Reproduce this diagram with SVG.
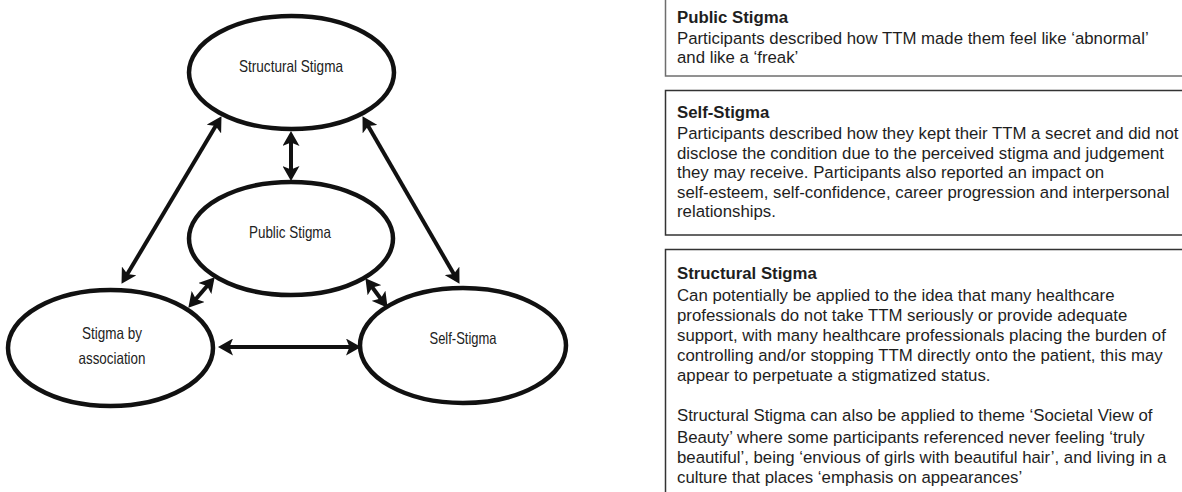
<svg xmlns="http://www.w3.org/2000/svg" width="1182" height="492" viewBox="0 0 1182 492">
  <style>
    .node ellipse { fill: #ffffff; stroke: #111111; stroke-width: 4.5; }
    .node text { font-family: "Liberation Sans", Arial, sans-serif; font-size: 16.5px; fill: #222222; text-anchor: middle; }
    .link { stroke: #111111; stroke-width: 4; fill: none; marker-start: url(#head); marker-end: url(#head); }
    .box { fill: #ffffff; stroke: #333333; stroke-width: 1.5; }
    .box.light { stroke: #6e6e6e; }
    .txt { font-family: "Liberation Sans", Arial, sans-serif; font-size: 16.8px; fill: #1e1e1e; }
    .txt .h { font-weight: bold; }
  </style>
  <defs>
    <marker id="head" markerUnits="userSpaceOnUse" markerWidth="16" markerHeight="17" refX="8" refY="8.5" orient="auto-start-reverse" viewBox="0 0 16 17">
      <path d="M0,0 L15,8.5 L0,17 L3.5,8.5 Z" fill="#111111"/>
    </marker>
  </defs>

  <rect width="1182" height="492" fill="#ffffff"/>

  <!-- stigma model -->
  <g id="structural-stigma" class="node">
    <ellipse cx="291.5" cy="72.5" rx="102.5" ry="56.5"/>
    <text x="291" y="72" textLength="104" lengthAdjust="spacingAndGlyphs">Structural Stigma</text>
  </g>
  <g id="public-stigma" class="node">
    <ellipse cx="291" cy="238.5" rx="102" ry="56.5"/>
    <text x="290" y="238" textLength="82" lengthAdjust="spacingAndGlyphs">Public Stigma</text>
  </g>
  <g id="stigma-by-association" class="node">
    <ellipse cx="110.5" cy="348" rx="102.5" ry="58"/>
    <text x="112" y="339" textLength="60" lengthAdjust="spacingAndGlyphs">Stigma by</text>
    <text x="112" y="364" textLength="67" lengthAdjust="spacingAndGlyphs">association</text>
  </g>
  <g id="self-stigma" class="node">
    <ellipse cx="463" cy="345.5" rx="103" ry="57.5"/>
    <text x="463" y="344" textLength="67" lengthAdjust="spacingAndGlyphs">Self-Stigma</text>
  </g>

  <g id="connectors">
    <line class="link" x1="291" y1="138" x2="291" y2="174"/>
    <line class="link" x1="217.9" y1="122.2" x2="125.1" y2="277.8"/>
    <line class="link" x1="366" y1="122.2" x2="456" y2="277.8"/>
    <line class="link" x1="210.1" y1="282.5" x2="192.9" y2="302.5"/>
    <line class="link" x1="369.6" y1="283.8" x2="383.4" y2="302.2"/>
    <line class="link" x1="225" y1="347" x2="354" y2="347"/>
  </g>

  <!-- descriptions -->
  <g id="box-public">
    <rect class="box light" x="665.5" y="-5" width="530" height="81"/>
    <text class="txt" x="677">
      <tspan class="h" x="677" y="23">Public Stigma</tspan>
      <tspan x="677" y="44">Participants described how TTM made them feel like ‘abnormal’</tspan>
      <tspan x="677" y="63">and like a ‘freak’</tspan>
    </text>
  </g>
  <g id="box-self">
    <rect class="box" x="665.5" y="90.5" width="530" height="144.5"/>
    <text class="txt" x="677">
      <tspan class="h" x="677" y="118">Self-Stigma</tspan>
      <tspan x="677" y="139">Participants described how they kept their TTM a secret and did not</tspan>
      <tspan x="677" y="158.5">disclose the condition due to the perceived stigma and judgement</tspan>
      <tspan x="677" y="178">they may receive. Participants also reported an impact on</tspan>
      <tspan x="677" y="197.5">self-esteem, self-confidence, career progression and interpersonal</tspan>
      <tspan x="677" y="217">relationships.</tspan>
    </text>
  </g>
  <g id="box-structural">
    <rect class="box" x="665.5" y="249.5" width="530" height="260"/>
    <text class="txt" x="677">
      <tspan class="h" x="677" y="279">Structural Stigma</tspan>
      <tspan x="677" y="301">Can potentially be applied to the idea that many healthcare</tspan>
      <tspan x="677" y="321">professionals do not take TTM seriously or provide adequate</tspan>
      <tspan x="677" y="341">support, with many healthcare professionals placing the burden of</tspan>
      <tspan x="677" y="361">controlling and/or stopping TTM directly onto the patient, this may</tspan>
      <tspan x="677" y="381">appear to perpetuate a stigmatized status.</tspan>
      <tspan x="677" y="421">Structural Stigma can also be applied to theme ‘Societal View of</tspan>
      <tspan x="677" y="443">Beauty’ where some participants referenced never feeling ‘truly</tspan>
      <tspan x="677" y="463">beautiful’, being ‘envious of girls with beautiful hair’, and living in a</tspan>
      <tspan x="677" y="483">culture that places ‘emphasis on appearances’</tspan>
    </text>
  </g>
</svg>
